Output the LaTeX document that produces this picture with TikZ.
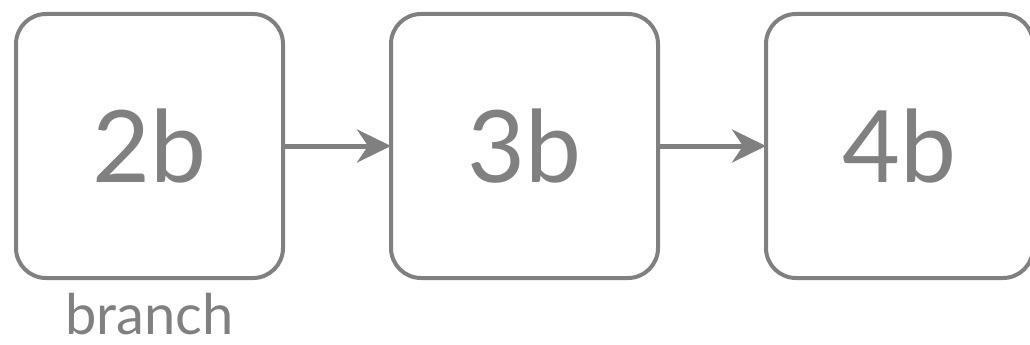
\documentclass[tikz,border=0pt]{standalone}
\usepackage{fontspec}
\setsansfont{Lato}
\usetikzlibrary{positioning,arrows.meta}
\definecolor{boxgray}{RGB}{128,128,128}
\tikzset{
  commit/.style={draw=boxgray, line width=4pt, rounded corners=30pt,
    minimum width=267pt, minimum height=264pt, outer sep=0pt,
    text=boxgray, font=\sffamily\fontsize{100}{100}\selectfont},
  tag/.style={inner sep=0pt, text=boxgray, font=\sffamily\fontsize{56}{56}\selectfont},
  link/.style={draw=boxgray, line width=5pt, -{Stealth[length=34pt,width=33pt]}},
}
\begin{document}
\begin{tikzpicture}[x=1pt, y=1pt]
  \useasboundingbox (0,0) rectangle (1030,-345);
  % Commits
  \node[commit] (c2) at (149.5,-146) {2b};
  \node[commit, right=108pt of c2] (c3) {3b};
  \node[commit, right=108pt of c3] (c4) {4b};
  % Links
  \draw[link] (c2) -- (c3);
  \draw[link] (c3) -- (c4);
  % Label
  \node[tag, below=15pt of c2] (br) {branch};
\end{tikzpicture}
\end{document}
